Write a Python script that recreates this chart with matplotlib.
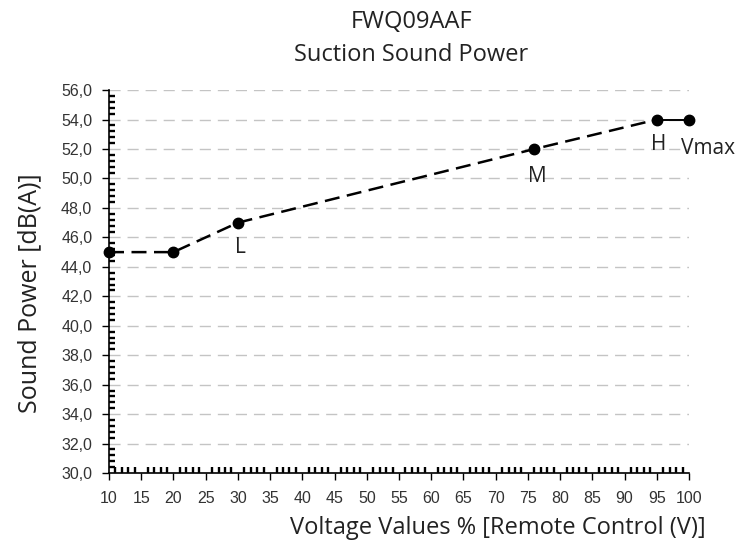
import matplotlib.pyplot as plt
from matplotlib.ticker import MultipleLocator, FuncFormatter

# data
voltage = [10, 20, 30, 76, 95, 100]
power = [45, 45, 47, 52, 54, 54]
labels = ["", "", "L", "M", "H", "Vmax"]

title_font = "Open Sans"
tick_font = "Liberation Sans"
text_col = "#222222"

fig = plt.figure(figsize=(7.43, 5.43), dpi=100)
ax = fig.add_axes([0.1467, 0.1289, 0.7806, 0.7051])

# dashed part of the curve up to H, solid from H to Vmax
ax.plot(voltage[:5], power[:5], color="black", lw=1.8, ls=(0, (6, 3)), zorder=3, clip_on=False)
ax.plot(voltage[4:], power[4:], color="black", lw=1.4, zorder=3, clip_on=False)
ax.plot(voltage, power, "o", color="black", ms=7.5, zorder=4, clip_on=False)

# point labels (offsets in points)
offsets = {"L": (1.5, -18), "M": (2, -20), "H": (1.5, -18), "Vmax": (-6, -21)}
for x, y, lab in zip(voltage, power, labels):
    if not lab:
        continue
    dx, dy = offsets[lab]
    ax.annotate(lab, (x, y), xytext=(dx, dy), textcoords="offset points",
                ha="left" if lab == "Vmax" else "center", va="center",
                fontsize=15, family=title_font, color=text_col)

ax.set_xlim(10, 100)
ax.set_ylim(30, 56)
ax.xaxis.set_major_locator(MultipleLocator(5))
ax.xaxis.set_minor_locator(MultipleLocator(1))
ax.yaxis.set_major_locator(MultipleLocator(2))
ax.yaxis.set_minor_locator(MultipleLocator(0.4))
ax.yaxis.set_major_formatter(FuncFormatter(lambda v, p: f"{v:.1f}".replace(".", ",")))

ax.tick_params(which="major", direction="out", length=5, width=1, labelsize=11.5)
ax.tick_params(which="minor", direction="in", length=4, width=1.7)
ax.tick_params(axis="y", pad=7)
ax.tick_params(axis="x", pad=8)
for t in ax.get_xticklabels() + ax.get_yticklabels():
    t.set_family(tick_font)
    t.set_color("#333333")

ax.grid(axis="y", which="major", color="#c4c4c4", ls=(0, (8, 5)), lw=1)
ax.set_axisbelow(True)
for s in ["top", "right"]:
    ax.spines[s].set_visible(False)
ax.spines["left"].set_linewidth(1.2)
ax.spines["bottom"].set_linewidth(1.2)

fig.text(0.040, 0.46, "Sound Power [dB(A)]", rotation=90, ha="center", va="center",
         fontsize=18, family=title_font, color=text_col)
fig.text(0.670, 0.028, "Voltage Values % [Remote Control (V)]", ha="center", va="center",
         fontsize=17, family=title_font, color=text_col)

fig.text(0.554, 0.960, "FWQ09AAF", ha="center", va="center", fontsize=17,
         family=title_font, color=text_col)
fig.text(0.554, 0.899, "Suction Sound Power", ha="center", va="center", fontsize=17,
         family=title_font, color=text_col)

fig.savefig("out.png", dpi=100)
